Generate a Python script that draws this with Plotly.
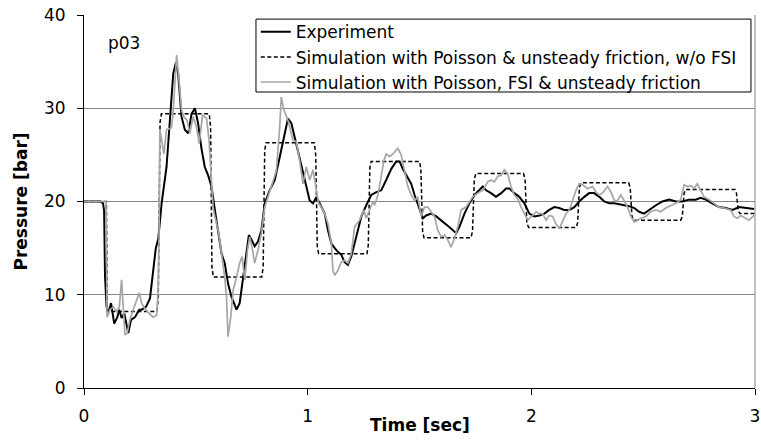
import plotly.graph_objects as go

# Measured pressure at p03
exp_t = [0.000, 0.075, 0.085, 0.090, 0.094, 0.098, 0.101, 0.108, 0.121, 0.135, 0.149, 0.158,
         0.168, 0.180, 0.198, 0.210, 0.228, 0.247, 0.258, 0.277, 0.287, 0.295, 0.309, 0.321,
         0.332, 0.347, 0.369, 0.384, 0.399, 0.411, 0.421, 0.436, 0.451, 0.466, 0.481, 0.496,
         0.510, 0.525, 0.540, 0.555, 0.570, 0.585, 0.600, 0.615, 0.629, 0.644, 0.659, 0.682,
         0.696, 0.711, 0.726, 0.737, 0.749, 0.763, 0.778, 0.793, 0.808, 0.830, 0.853, 0.875,
         0.897, 0.912, 0.927, 0.942, 0.964, 0.987, 1.009, 1.024, 1.039, 1.054, 1.076, 1.091,
         1.106, 1.121, 1.135, 1.150, 1.165, 1.180, 1.195, 1.217, 1.240, 1.262, 1.284, 1.307,
         1.329, 1.351, 1.374, 1.396, 1.411, 1.425, 1.448, 1.463, 1.478, 1.500, 1.515, 1.530,
         1.552, 1.575, 1.597, 1.619, 1.641, 1.664, 1.679, 1.701, 1.723, 1.746, 1.768, 1.783,
         1.798, 1.820, 1.842, 1.865, 1.887, 1.902, 1.924, 1.946, 1.969, 1.991, 2.013, 2.036,
         2.058, 2.080, 2.103, 2.125, 2.147, 2.170, 2.192, 2.214, 2.237, 2.259, 2.281, 2.304,
         2.326, 2.348, 2.371, 2.393, 2.415, 2.438, 2.460, 2.482, 2.504, 2.527, 2.557, 2.586,
         2.616, 2.646, 2.675, 2.705, 2.735, 2.757, 2.780, 2.809, 2.839, 2.869, 2.899, 2.929,
         2.958, 2.996]
exp_p = [20.0, 20.0, 19.8, 19.0, 12.0, 9.5, 8.7, 8.0, 9.1, 6.9, 7.6, 8.4,
         7.5, 8.0, 5.9, 7.3, 7.6, 8.4, 8.4, 8.7, 9.2, 9.6, 12.5, 15.0,
         16.0, 19.8, 23.7, 28.7, 33.7, 34.9, 33.7, 29.1, 27.7, 27.3, 29.4, 30.0,
         28.4, 25.7, 23.7, 22.8, 21.6, 19.1, 16.9, 14.4, 13.4, 11.2, 9.8, 8.4,
         9.1, 11.9, 14.8, 16.4, 15.9, 15.2, 15.7, 16.9, 19.8, 21.2, 22.3, 24.8,
         27.3, 28.9, 28.4, 26.9, 24.8, 22.3, 20.1, 19.8, 20.5, 19.8, 18.7, 16.9,
         15.5, 15.0, 14.6, 14.3, 13.5, 13.2, 14.1, 16.2, 18.4, 19.6, 20.7, 21.0,
         21.2, 22.3, 23.5, 24.3, 24.3, 23.5, 22.6, 21.9, 20.7, 19.3, 18.2, 18.5,
         18.7, 18.4, 18.0, 17.6, 17.1, 16.6, 17.3, 18.7, 19.8, 20.7, 21.2, 21.6,
         21.2, 20.9, 20.5, 20.9, 21.4, 21.4, 20.9, 20.5, 19.8, 18.7, 18.4, 18.5,
         18.7, 19.1, 19.4, 19.3, 19.1, 19.1, 19.4, 20.0, 20.5, 20.9, 20.9, 20.5,
         20.0, 19.8, 19.8, 19.7, 19.6, 19.5, 19.3, 18.9, 18.7, 19.1, 19.6, 20.0,
         20.2, 20.0, 20.0, 20.2, 20.2, 20.4, 20.2, 19.8, 19.4, 19.3, 19.1, 19.4,
         19.3, 19.2]

# Simulation with Poisson coupling and unsteady friction, no FSI
sim_t = [0.000, 0.100, 0.104, 0.325, 0.332, 0.340, 0.346, 0.560, 0.566, 0.572, 0.578,
         0.795, 0.801, 0.808, 0.814, 1.030, 1.036, 1.043, 1.049, 1.265, 1.271, 1.278,
         1.284, 1.500, 1.506, 1.514, 1.520, 1.730, 1.737, 1.745, 1.752, 1.965, 1.972,
         1.980, 1.988, 2.200, 2.207, 2.215, 2.223, 2.435, 2.442, 2.450, 2.458, 2.668,
         2.675, 2.683, 2.691, 2.910, 2.917, 2.925, 2.933, 3.000]
sim_p = [20.0, 20.0, 8.2, 8.2, 9.5, 28.5, 29.4, 29.4, 28.0, 13.0, 11.9,
         11.9, 13.0, 25.5, 26.3, 26.3, 25.0, 15.2, 14.4, 14.4, 15.3, 23.6,
         24.3, 24.3, 23.5, 16.8, 16.1, 16.1, 16.8, 22.4, 23.0, 23.0, 22.4,
         17.7, 17.2, 17.2, 17.7, 21.5, 22.0, 22.0, 21.5, 18.4, 18.0, 18.0,
         18.4, 20.9, 21.3, 21.3, 20.9, 19.0, 18.7, 18.7]

# Simulation with Poisson coupling, FSI and unsteady friction
fsi_t = [0.000, 0.098, 0.101, 0.103, 0.116, 0.131, 0.146, 0.158, 0.168, 0.175, 0.183,
         0.193, 0.205, 0.220, 0.235, 0.247, 0.258, 0.269, 0.287, 0.309, 0.325, 0.332,
         0.336, 0.339, 0.347, 0.357, 0.369, 0.391, 0.398, 0.414, 0.425, 0.436, 0.446,
         0.461, 0.473, 0.488, 0.503, 0.515, 0.530, 0.548, 0.559, 0.570, 0.577, 0.585,
         0.600, 0.615, 0.629, 0.637, 0.644, 0.656, 0.667, 0.682, 0.696, 0.707, 0.719,
         0.731, 0.741, 0.751, 0.763, 0.778, 0.793, 0.808, 0.823, 0.845, 0.860, 0.875,
         0.882, 0.894, 0.912, 0.934, 0.949, 0.964, 0.979, 0.994, 1.009, 1.024, 1.039,
         1.049, 1.061, 1.076, 1.091, 1.106, 1.113, 1.121, 1.135, 1.150, 1.165, 1.180,
         1.195, 1.210, 1.232, 1.251, 1.262, 1.277, 1.292, 1.299, 1.314, 1.326, 1.341,
         1.351, 1.366, 1.381, 1.403, 1.418, 1.433, 1.448, 1.463, 1.478, 1.492, 1.508,
         1.522, 1.537, 1.552, 1.567, 1.582, 1.597, 1.612, 1.626, 1.641, 1.656, 1.671,
         1.686, 1.708, 1.723, 1.738, 1.760, 1.783, 1.805, 1.820, 1.835, 1.850, 1.865,
         1.879, 1.894, 1.909, 1.924, 1.939, 1.954, 1.969, 1.984, 2.006, 2.021, 2.036,
         2.050, 2.066, 2.080, 2.095, 2.110, 2.125, 2.140, 2.155, 2.170, 2.184, 2.200,
         2.214, 2.229, 2.251, 2.274, 2.289, 2.304, 2.318, 2.341, 2.356, 2.371, 2.385,
         2.400, 2.415, 2.430, 2.445, 2.460, 2.475, 2.490, 2.512, 2.534, 2.557, 2.579,
         2.601, 2.624, 2.646, 2.668, 2.683, 2.698, 2.713, 2.728, 2.742, 2.757, 2.772,
         2.795, 2.817, 2.839, 2.862, 2.891, 2.906, 2.921, 2.936, 2.958, 2.973, 2.996]
fsi_p = [20.0, 20.0, 14.0, 7.6, 8.4, 8.7, 8.2, 8.7, 11.6, 8.4, 5.7,
         5.9, 7.3, 8.4, 9.4, 10.2, 9.1, 8.6, 8.1, 7.6, 7.8, 10.9,
         17.3, 27.7, 26.6, 25.1, 27.7, 27.9, 29.4, 35.7, 33.0, 29.8, 29.1,
         28.7, 27.3, 29.1, 28.0, 26.2, 29.3, 28.9, 26.6, 22.3, 19.4, 18.4,
         16.9, 14.4, 11.9, 9.8, 5.5, 7.6, 10.5, 11.9, 13.4, 14.1, 11.6,
         14.8, 16.2, 15.1, 13.4, 14.8, 16.6, 19.4, 20.5, 22.3, 23.3, 28.0,
         31.2, 29.8, 28.7, 26.6, 26.4, 24.4, 21.9, 23.7, 22.3, 23.4, 21.2,
         19.8, 19.4, 18.7, 17.6, 15.5, 12.6, 12.1, 12.6, 13.5, 13.7, 13.4,
         14.4, 17.3, 18.0, 19.1, 18.2, 19.1, 20.0, 19.6, 20.7, 22.3, 24.4,
         25.1, 24.8, 25.1, 25.7, 25.0, 23.4, 21.6, 20.7, 20.1, 20.5, 18.4,
         19.4, 19.4, 18.9, 18.4, 16.9, 16.2, 16.4, 15.9, 15.1, 16.0, 17.3,
         19.1, 19.4, 20.0, 20.5, 20.9, 21.2, 22.1, 22.3, 22.1, 22.7, 22.8,
         23.4, 23.0, 21.6, 20.7, 20.3, 19.4, 18.7, 18.0, 18.5, 18.9, 18.7,
         18.7, 18.0, 18.5, 18.4, 17.6, 17.1, 18.0, 18.7, 19.1, 20.1, 21.2,
         21.9, 21.8, 21.4, 21.6, 21.0, 20.7, 20.9, 21.6, 21.0, 20.1, 20.1,
         20.7, 20.1, 19.4, 18.4, 17.8, 18.0, 18.2, 18.4, 18.9, 19.1, 18.9,
         19.3, 19.6, 19.8, 20.2, 21.8, 21.6, 21.7, 21.4, 21.9, 21.2, 20.5,
         20.2, 19.8, 19.4, 19.3, 19.1, 18.4, 18.2, 18.5, 18.2, 18.0, 18.5]

x_ticks = [0, 1, 2, 3]
y_ticks = [0, 10, 20, 30, 40]

FONT = "DejaVu Sans, Liberation Sans, Arial, sans-serif"
GRID = "#858585"

fig = go.Figure()
fig.add_trace(go.Scatter(x=exp_t, y=exp_p, mode="lines", name="Experiment",
                         line=dict(color="black", width=2)))
fig.add_trace(go.Scatter(x=sim_t, y=sim_p, mode="lines",
                         name="Simulation with Poisson & unsteady friction, w/o FSI",
                         line=dict(color="black", width=1.5, dash="4px,2.5px")))
fig.add_trace(go.Scatter(x=fsi_t, y=fsi_p, mode="lines",
                         name="Simulation with Poisson, FSI & unsteady friction",
                         line=dict(color="#a6a6a6", width=1.7)))

# grey frame on the right of the plot area (top edge is the 40 bar gridline)
fig.add_shape(type="line", xref="paper", yref="paper", x0=1, x1=1, y0=0, y1=1,
              line=dict(color=GRID, width=1))
# legend frame: white box with a thin black border behind the legend entries
fig.add_shape(type="rect", xref="paper", yref="paper", layer="above",
              x0=0.2563, x1=0.994, y0=0.7936, y1=0.989,
              fillcolor="white", line=dict(color="black", width=1))

fig.add_annotation(x=0.1, y=37.0, xref="x", yref="y", text="p03", showarrow=False,
                   xanchor="left", yanchor="middle", font=dict(size=17, color="black"))
# x-axis title
fig.add_annotation(x=0.5, y=-0.099, xref="paper", yref="paper",
                   text="<b>Time [sec]</b>", showarrow=False,
                   xanchor="center", yanchor="middle", font=dict(size=17, color="black"))

fig.update_layout(
    width=761, height=440,
    margin=dict(l=84, r=6, t=15, b=52, autoexpand=False),
    paper_bgcolor="white", plot_bgcolor="white",
    font=dict(family=FONT, size=17, color="black"),
    showlegend=True,
    legend=dict(x=0.256, y=1.002, xanchor="left", yanchor="top",
                bgcolor="rgba(0,0,0,0)", borderwidth=0,
                font=dict(size=17), itemwidth=30, tracegroupgap=0),
)
fig.update_xaxes(range=[0, 3], tickvals=x_ticks, ticks="outside", ticklen=6,
                 tickcolor="black", showline=True, linecolor="black", linewidth=1,
                 showgrid=False, zeroline=False, ticklabelstandoff=7,
                 automargin=False)
fig.update_yaxes(range=[0, 40], tickvals=y_ticks, ticks="outside", ticklen=6,
                 tickcolor="black", showline=True, linecolor="black", linewidth=1,
                 showgrid=True, gridcolor=GRID, gridwidth=1, zeroline=False,
                 ticklabelstandoff=8, automargin=False,
                 title=dict(text="<b>Pressure [bar]</b>", standoff=12,
                            font=dict(size=17)))

fig.write_html("out.html")
